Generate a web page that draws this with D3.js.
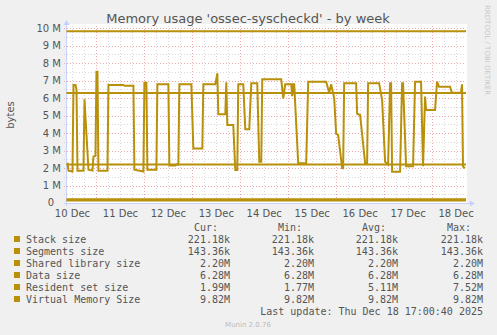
<!DOCTYPE html>
<html><head><meta charset="utf-8">
<script src="https://cdn.jsdelivr.net/npm/d3@7"></script>
<style>
html,body{margin:0;padding:0;background:#f0f0f0;}
svg{display:block;}
</style></head>
<body>
<svg id="chart" width="497" height="335"></svg>
<script>
// ---- data ----
const title = "Memory usage 'ossec-syscheckd' - by week";
const yTickValues = [0,1,2,3,4,5,6,7,8,9,10];          // in M
const yTickLabels = ["0","1 M","2 M","3 M","4 M","5 M","6 M","7 M","8 M","9 M","10 M"];
const xTickDays = ["2025-12-10","2025-12-11","2025-12-12","2025-12-13","2025-12-14","2025-12-15","2025-12-16","2025-12-17","2025-12-18"];
const xTickLabels = ["10 Dec","11 Dec","12 Dec","13 Dec","14 Dec","15 Dec","16 Dec","17 Dec","18 Dec"];
const timeStart = "2025-12-10T09:00";
const timeEnd = "2025-12-18T17:00";

const seriesNames = ["Stack size","Segments size","Shared library size","Data size","Resident set size","Virtual Memory Size"];
const constantValues = [0.22118, 0.14336, 2.20, 6.28, null, 9.82]; // M
const legendCur = ["221.18k","143.36k","2.20M","6.28M","1.99M","9.82M"];
const legendMin = ["221.18k","143.36k","2.20M","6.28M","1.77M","9.82M"];
const legendAvg = ["221.18k","143.36k","2.20M","6.28M","5.11M","9.82M"];
const legendMax = ["221.18k","143.36k","2.20M","6.28M","7.52M","9.82M"];

// Resident set size (M)
const rssTimes = [
"2025-12-10T09:30","2025-12-10T10:00","2025-12-10T12:00","2025-12-10T12:30","2025-12-10T13:30","2025-12-10T14:00","2025-12-10T14:30","2025-12-10T17:30","2025-12-10T18:00","2025-12-10T20:00","2025-12-10T22:00","2025-12-10T22:30","2025-12-10T23:30",
"2025-12-11T00:00","2025-12-11T00:30","2025-12-11T01:00","2025-12-11T05:30","2025-12-11T06:00","2025-12-11T13:30","2025-12-11T14:00","2025-12-11T18:30","2025-12-11T19:00","2025-12-11T23:30",
"2025-12-12T00:00","2025-12-12T01:00","2025-12-12T01:30","2025-12-12T06:00","2025-12-12T06:30","2025-12-12T12:00","2025-12-12T12:30","2025-12-12T15:30","2025-12-12T16:00","2025-12-12T17:00","2025-12-12T17:30","2025-12-12T23:30",
"2025-12-13T00:30","2025-12-13T05:00","2025-12-13T05:30","2025-12-13T11:30","2025-12-13T12:30","2025-12-13T13:00","2025-12-13T16:30","2025-12-13T17:00","2025-12-13T17:30","2025-12-13T20:30","2025-12-13T21:30","2025-12-13T22:30","2025-12-13T23:00",
"2025-12-14T01:30","2025-12-14T02:30","2025-12-14T04:30","2025-12-14T05:30","2025-12-14T08:30","2025-12-14T09:30","2025-12-14T10:30","2025-12-14T11:00","2025-12-14T20:30","2025-12-14T21:30","2025-12-14T22:30",
"2025-12-15T01:30","2025-12-15T02:00","2025-12-15T02:30","2025-12-15T03:00","2025-12-15T05:00","2025-12-15T09:00","2025-12-15T10:00","2025-12-15T19:00","2025-12-15T20:30","2025-12-15T21:30","2025-12-15T23:00",
"2025-12-16T00:00","2025-12-16T01:00","2025-12-16T03:00","2025-12-16T03:30","2025-12-16T04:00","2025-12-16T10:00","2025-12-16T10:30","2025-12-16T12:00","2025-12-16T14:30","2025-12-16T15:30","2025-12-16T16:00","2025-12-16T21:30","2025-12-16T23:00",
"2025-12-17T00:30","2025-12-17T02:00","2025-12-17T03:00","2025-12-17T03:30","2025-12-17T04:00","2025-12-17T08:00","2025-12-17T09:00","2025-12-17T09:30","2025-12-17T11:00","2025-12-17T14:30","2025-12-17T15:30","2025-12-17T18:30","2025-12-17T19:30","2025-12-17T20:30","2025-12-17T21:00",
"2025-12-18T01:30","2025-12-18T02:30","2025-12-18T03:30","2025-12-18T09:00","2025-12-18T10:00","2025-12-18T14:30","2025-12-18T15:00","2025-12-18T15:30","2025-12-18T16:30"
];
const rssValues = [
2.3,1.85,1.8,6.74,6.74,6.5,1.85,1.85,5.93,1.9,1.85,2.65,2.7,
7.5,7.5,1.85,1.85,6.74,6.74,6.7,6.7,1.9,1.8,
6.87,6.87,1.9,1.9,6.78,6.78,2.14,2.14,2.2,2.2,6.78,6.78,
3.12,3.12,6.78,6.78,7.41,5.07,5.07,6.9,4.46,4.46,1.89,1.89,6.78,
6.78,4.21,4.21,6.85,6.85,2.36,2.36,7.07,7.07,5.98,6.78,
6.78,6.1,6.78,6.78,2.27,2.27,6.93,6.93,6.3,6.78,6.0,
3.95,3.89,1.98,1.98,6.85,6.85,5.1,5.03,2.27,2.27,6.85,6.85,5.89,
2.35,2.2,6.85,6.85,1.79,1.79,6.85,6.85,2.1,2.1,6.93,6.93,2.1,6.08,5.31,
5.31,6.93,6.65,6.65,6.3,6.3,6.78,2.08,1.99
];

// ---- layout ----
const color = "#b8900a";
const svg = d3.select("#chart");
const L = 67, R = 466, T = 28, B = 203;
const parse = d3.isoParse;
const x = d3.scaleTime().domain([parse(timeStart), parse(timeEnd)]).range([L - 0.5, R]);
const y = d3.scaleLinear().domain([0, 10]).range([B, T]);

// plot background
svg.append("rect").attr("x", L).attr("y", T - 4).attr("width", R - L + 1).attr("height", B - T + 4).attr("fill", "#ffffff");

// grid
const g = svg.append("g");
const minorY = d3.range(0.5, 10.01, 0.5).filter(v => v % 1 !== 0);
g.selectAll(".hmin").data(minorY).join("line")
  .attr("x1", L - 3).attr("x2", R).attr("y1", d => Math.round(y(d)) + 0.5).attr("y2", d => Math.round(y(d)) + 0.5)
  .attr("stroke", "#d8d8d8").attr("stroke-width", 1).attr("stroke-dasharray", "1,2");
const minorX = d3.timeHour.every(6).range(parse(timeStart), parse(timeEnd)).filter(d => d.getHours() !== 0);
g.selectAll(".vmin").data(minorX).join("line")
  .attr("x1", d => Math.round(x(d)) + 0.5).attr("x2", d => Math.round(x(d)) + 0.5).attr("y1", T - 2).attr("y2", B + 2)
  .attr("stroke", "#d8d8d8").attr("stroke-width", 1).attr("stroke-dasharray", "1,2");
g.selectAll(".hmaj").data(yTickValues).join("line")
  .attr("x1", L - 3).attr("x2", R).attr("y1", d => Math.round(y(d)) + 0.5).attr("y2", d => Math.round(y(d)) + 0.5)
  .attr("stroke", "#f0a8a8").attr("stroke-width", 1).attr("stroke-dasharray", "1,2");
const majorX = xTickDays.slice(1).map(d => parse(d + "T00:00"));
g.selectAll(".vmaj").data(majorX).join("line")
  .attr("x1", d => Math.round(x(d)) + 0.5).attr("x2", d => Math.round(x(d)) + 0.5).attr("y1", T - 2).attr("y2", B + 3)
  .attr("stroke", "#f0a8a8").attr("stroke-width", 1).attr("stroke-dasharray", "1,2");

// axes (light blue) with arrows
const axisColor = "#c8d2f8";
svg.append("line").attr("x1", L - 0.5).attr("x2", L - 0.5).attr("y1", T - 4).attr("y2", B + 3).attr("stroke", axisColor);
svg.append("line").attr("x1", L - 3).attr("x2", R + 4).attr("y1", B + 0.5).attr("y2", B + 0.5).attr("stroke", axisColor);
svg.append("path").attr("d", `M${L-3.5},${T-3} L${L-0.5},${T-8} L${L+2.5},${T-3} Z`).attr("fill", axisColor);
svg.append("path").attr("d", `M${R+4},${B-2.5} L${R+9},${B+0.5} L${R+4},${B+3.5} Z`).attr("fill", axisColor);

// y labels
svg.append("g").selectAll("text").data(yTickValues).join("text")
  .attr("x", d => d === 0 ? 54 : 61).attr("y", d => y(d)).attr("dy", d => d === 0 ? "0.3em" : "0.36em").attr("text-anchor", "end")
  .attr("font-family", "DejaVu Sans").attr("font-size", 10).attr("fill", "#555")
  .text((d, i) => yTickLabels[i]);

// x labels (centered at noon)
svg.append("g").selectAll("text").data(xTickDays).join("text")
  .attr("x", d => x(parse(d + "T12:00"))).attr("y", 217).attr("text-anchor", "middle")
  .attr("font-family", "DejaVu Sans").attr("font-size", 10).attr("fill", "#555")
  .text((d, i) => xTickLabels[i]);

// title
svg.append("text").attr("x", 248).attr("y", 23).attr("text-anchor", "middle")
  .attr("font-family", "DejaVu Sans").attr("font-size", 13).attr("fill", "#555").text(title);

// y axis title
svg.append("text").attr("transform", "translate(14,115) rotate(-90)").attr("text-anchor", "middle")
  .attr("font-family", "DejaVu Sans").attr("font-size", 10).attr("fill", "#555").text("bytes");

// watermark
svg.append("text").attr("transform", "translate(485,5) rotate(90)").attr("text-anchor", "start")
  .attr("font-family", "DejaVu Sans").attr("font-size", 7).attr("fill", "#c8c8c8").text("RRDTOOL / TOBI OETIKER");

// series lines
const line = d3.line().x(d => x(d[0])).y(d => y(d[1]));
const lg = svg.append("g").attr("fill", "none").attr("stroke", color).attr("stroke-width", 2);
constantValues.forEach(v => {
  if (v === null) return;
  lg.append("path").attr("d", line([[parse(timeStart), v], [parse(timeEnd), v]]));
});
const rssData = rssTimes.map((t, i) => [parse(t), rssValues[i]]);
lg.append("path").attr("d", line(rssData)).attr("stroke-linejoin", "miter");

// legend
const mono = "DejaVu Sans Mono";
const legG = svg.append("g").attr("font-family", mono).attr("font-size", 10).attr("fill", "#555");
const colEnds = [230, 314, 398, 483];
["Cur:","Min:","Avg:","Max:"].forEach((h, i) => {
  legG.append("text").attr("x", colEnds[i] - 12).attr("y", 231).attr("text-anchor", "end").text(h);
});
const cols = [legendCur, legendMin, legendAvg, legendMax];
seriesNames.forEach((n, i) => {
  const yy = 243 + i * 12;
  legG.append("rect").attr("x", 14).attr("y", yy - 7).attr("width", 6).attr("height", 6).attr("fill", color);
  legG.append("text").attr("x", 26).attr("y", yy).text(n);
  cols.forEach((c, j) => {
    legG.append("text").attr("x", colEnds[j]).attr("y", yy).attr("text-anchor", "end").text(c[i]);
  });
});
legG.append("text").attr("x", 483).attr("y", 315).attr("text-anchor", "end").text("Last update: Thu Dec 18 17:00:40 2025");
svg.append("text").attr("x", 248).attr("y", 327).attr("text-anchor", "middle")
  .attr("font-family", "DejaVu Sans").attr("font-size", 7).attr("fill", "#bbb").text("Munin 2.0.76");
</script>
</body></html>
